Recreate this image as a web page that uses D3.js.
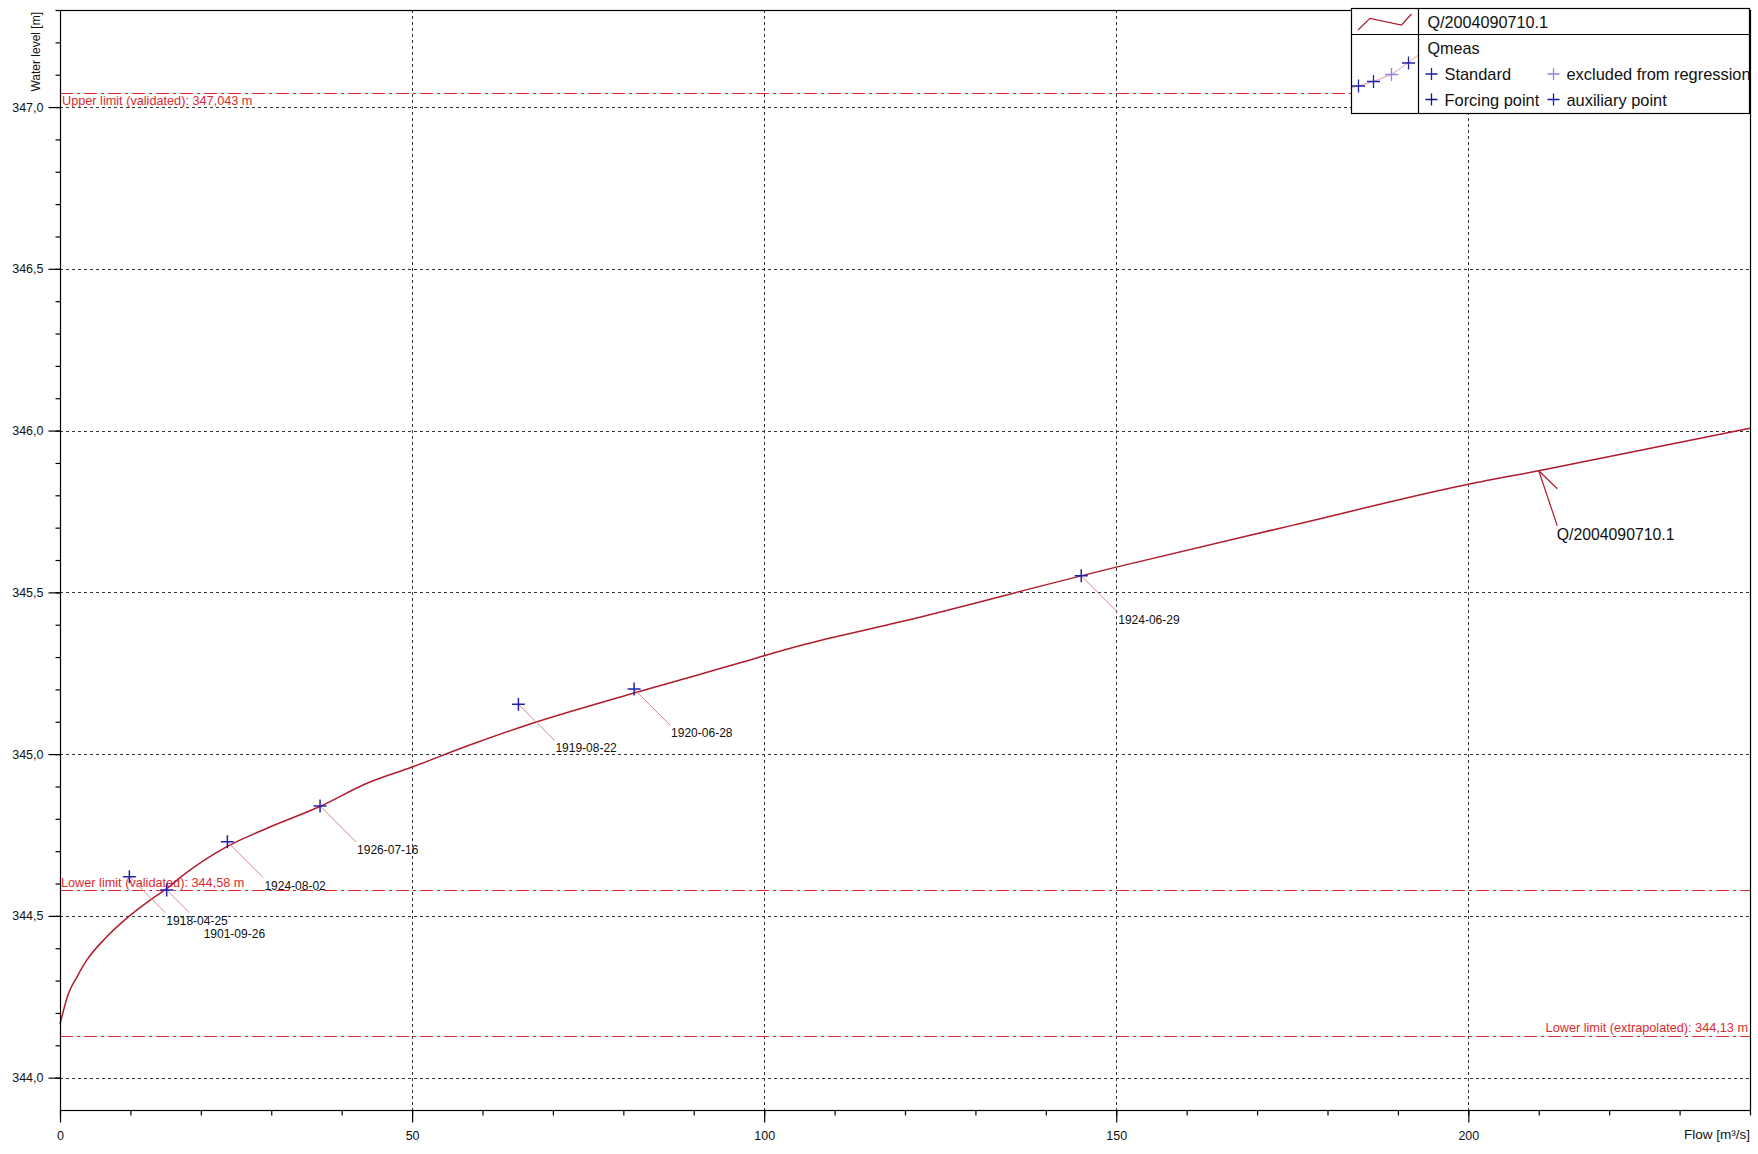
<!DOCTYPE html>
<html>
<head>
<meta charset="utf-8">
<script src="https://cdn.jsdelivr.net/npm/d3@7"></script>
<style>
  html, body { margin: 0; padding: 0; background: #fff; }
  svg { display: block; font-family: "Liberation Sans", Arial, sans-serif; }
</style>
</head>
<body>
<svg id="chart" width="1758" height="1154"></svg>
<script>
// ---------------- data ----------------
const curveName = "Q/2004090710.1";
const curveQ = [0, 1.2, 2.4, 3.8, 6.4, 9.7, 12.8, 15.2, 17.5, 23.7, 29.4, 36.9, 43.6, 50, 57.8, 67.2, 81.4, 95.6, 105, 120, 145, 150, 175, 200, 210, 240];
const curveH = [344.165, 344.26, 344.311, 344.363, 344.43, 344.497, 344.549, 344.585, 344.626, 344.714, 344.771, 344.838, 344.91, 344.96, 345.025, 345.096, 345.188, 345.276, 345.335, 345.412, 345.551, 345.578, 345.707, 345.834, 345.876, 346.007];

const measDates = ["1918-04-25", "1901-09-26", "1924-08-02", "1926-07-16", "1919-08-22", "1920-06-28", "1924-06-29"];
const measQ = [9.85, 15.15, 23.77, 36.93, 65.1, 81.53, 145.03];
const measH = [344.621, 344.58, 344.729, 344.840, 345.154, 345.201, 345.551];

const limitNames = ["Upper limit (validated)", "Lower limit (validated)", "Lower limit (extrapolated)"];
const limitValues = [347.043, 344.58, 344.13];
const limitLabels = ["347,043 m", "344,58 m", "344,13 m"];

const xMajorTicks = [0, 50, 100, 150, 200];
const yMajorTicks = [344.0, 344.5, 345.0, 345.5, 346.0, 346.5, 347.0];
const xTitle = "Flow [m³/s]";
const yTitle = "Water level [m]";

const legendItems = ["Standard", "excluded from regression", "Forcing point", "auxiliary point"];

// ---------------- layout ----------------
const W = 1758, H = 1154;
const L = 60, T = 10, R = 1750, B = 1110;
const x = d3.scaleLinear().domain([0, 240]).range([L, R]);
const y = d3.scaleLinear().domain([343.9, 347.3]).range([B, T]);

const svg = d3.select("#chart");
const curveColor = "#b01c2c";
const limitColor = "#dc2a2e";
const plusColor = "#2222a6";

// grid
const grid = svg.append("g");
grid.selectAll("line.hg").data(yMajorTicks).join("line")
  .attr("x1", L).attr("x2", R)
  .attr("y1", d => Math.round(y(d)) + 0.5).attr("y2", d => Math.round(y(d)) + 0.5)
  .attr("stroke", "#333").attr("stroke-width", 1).attr("stroke-dasharray", "3,3");
grid.selectAll("line.vg").data(xMajorTicks.filter(d => d > 0)).join("line")
  .attr("y1", T).attr("y2", B)
  .attr("x1", d => Math.round(x(d)) + 0.5).attr("x2", d => Math.round(x(d)) + 0.5)
  .attr("stroke", "#333").attr("stroke-width", 1).attr("stroke-dasharray", "3,3");

// limit lines
const lim = svg.append("g");
lim.selectAll("line").data(limitValues).join("line")
  .attr("x1", L).attr("x2", R)
  .attr("y1", d => Math.round(y(d)) + 0.5).attr("y2", d => Math.round(y(d)) + 0.5)
  .attr("stroke", limitColor).attr("stroke-width", 1).attr("stroke-dasharray", "13,4,3,4");
const limPlace = [
  { anchor: "start", xPos: L + 2, dy: 12 },
  { anchor: "start", xPos: L + 1, dy: -3 },
  { anchor: "end", xPos: R - 2, dy: -4 }
];
lim.selectAll("text").data(limitValues).join("text")
  .attr("x", (d, i) => limPlace[i].xPos)
  .attr("y", (d, i) => y(d) + limPlace[i].dy)
  .attr("text-anchor", (d, i) => limPlace[i].anchor)
  .attr("fill", limitColor).attr("font-size", 12.7)
  .text((d, i) => limitNames[i] + ": " + limitLabels[i]);

// curve
const curveData = curveQ.map((q, i) => [q, curveH[i]]);
svg.append("path").datum(curveData)
  .attr("d", d3.line().curve(d3.curveMonotoneX).x(d => x(d[0])).y(d => y(d[1])))
  .attr("fill", "none").attr("stroke", curveColor).attr("stroke-width", 1.5);

// curve label with arrow
const cq = 210, ch = curveH[curveQ.indexOf(210)];
const cg = svg.append("g").attr("transform", `translate(${x(cq)},${y(ch)})`);
cg.append("line").attr("x1", 0).attr("y1", 0).attr("x2", 18.5).attr("y2", 55)
  .attr("stroke", curveColor).attr("stroke-width", 1.2);
cg.append("line").attr("x1", 0).attr("y1", 0).attr("x2", 18.5).attr("y2", 18)
  .attr("stroke", curveColor).attr("stroke-width", 1.2);
cg.append("text").attr("x", 18).attr("y", 69).attr("font-size", 15.8).attr("fill", "#111").text(curveName);

// measurements
const leaderScale = [1, 0.63, 1, 1, 1, 1, 1];
const meas = svg.append("g");
meas.selectAll("line.lead").data(measQ).join("line")
  .attr("x1", (d) => x(d)).attr("y1", (d, i) => y(measH[i]))
  .attr("x2", (d, i) => x(d) + 36 * leaderScale[i]).attr("y2", (d, i) => y(measH[i]) + 36 * leaderScale[i])
  .attr("stroke", "#e08a8a").attr("stroke-width", 1);
meas.selectAll("text").data(measQ).join("text")
  .attr("x", d => x(d) + 37).attr("y", (d, i) => y(measH[i]) + 48)
  .attr("font-size", 12).attr("fill", "#111")
  .text((d, i) => measDates[i]);
function plus(g, cx, cy, s, color, w) {
  g.append("path").attr("d", `M${cx - s},${cy}H${cx + s}M${cx},${cy - s}V${cy + s}`)
    .attr("stroke", color).attr("stroke-width", w).attr("fill", "none");
}
measQ.forEach((q, i) => plus(meas, x(q), y(measH[i]), 6.5, plusColor, 1.5));

// axes box
svg.append("rect").attr("x", L + 0.5).attr("y", T + 0.5).attr("width", R - L).attr("height", B - T)
  .attr("fill", "none").attr("stroke", "#000").attr("stroke-width", 1.2);

const fmtY = d => d3.format(".1f")(d).replace(".", ",");
const yAxis = svg.append("g").attr("transform", `translate(${L + 0.5},0)`)
  .call(d3.axisLeft(y).tickValues(yMajorTicks).tickSize(12).tickPadding(5).tickFormat(fmtY));
const yMinor = svg.append("g").attr("transform", `translate(${L + 0.5},0)`)
  .call(d3.axisLeft(y).tickValues(d3.range(3440, 3474, 1).map(v => v / 10)).tickSize(5).tickFormat(""));
const xAxis = svg.append("g").attr("transform", `translate(0,${B + 0.5})`)
  .call(d3.axisBottom(x).tickValues(xMajorTicks).tickSize(12).tickPadding(9).tickFormat(d3.format("d")));
const xMinor = svg.append("g").attr("transform", `translate(0,${B + 0.5})`)
  .call(d3.axisBottom(x).tickValues(d3.range(0, 241, 10)).tickSize(5).tickFormat(""));
[yAxis, yMinor, xAxis, xMinor].forEach(a => {
  a.select(".domain").remove();
  a.selectAll("line").attr("stroke", "#000").attr("stroke-width", 1.2);
  a.selectAll("text").attr("font-family", "Liberation Sans, Arial, sans-serif").attr("font-size", 12.5).attr("fill", "#111");
});

// axis titles
svg.append("text").attr("transform", "translate(40,12) rotate(-90)")
  .attr("text-anchor", "end").attr("font-size", 12).attr("fill", "#111").text(yTitle);
svg.append("text").attr("x", R).attr("y", 1139).attr("text-anchor", "end")
  .attr("font-size", 13.5).attr("fill", "#111").text(xTitle);

// legend
const lx = 1351.5, ly = 8.5, lw = 398, lh = 105, divX = 67, divY = 26;
const leg = svg.append("g").attr("transform", `translate(${lx},${ly})`);
svg.append("defs").append("clipPath").attr("id", "legclip")
  .append("rect").attr("x", 0).attr("y", 0).attr("width", lw).attr("height", lh);
leg.append("rect").attr("width", lw).attr("height", lh).attr("fill", "#fff");
const legC = leg.append("g").attr("clip-path", "url(#legclip)");
legC.append("polyline").attr("points", "6.5,21.5 18.5,9.8 50,16.5 60,5.5")
  .attr("fill", "none").attr("stroke", curveColor).attr("stroke-width", 1.2);
legC.append("text").attr("x", 76).attr("y", 19).attr("font-size", 16.2).attr("fill", "#111").text(curveName);
legC.append("polyline").attr("points", "0,79 7,77.5 22,73 40,66 57,54 66,47")
  .attr("fill", "none").attr("stroke", "#e89aa8").attr("stroke-width", 1);
const legPlusColors = [plusColor, plusColor, "#8f84e6", plusColor];
[[7, 77.5], [22, 73], [40, 66], [57, 54.5]].forEach((p, i) => plus(legC, p[0], p[1], 6.5, legPlusColors[i], 1.3));
legC.append("text").attr("x", 76).attr("y", 45).attr("font-size", 16.2).attr("fill", "#111").text("Qmeas");
const itemColors = ["#1f1f9e", "#8f84e6", "#14147a", "#1616c0"];
const itemPos = [[80, 65.5], [202, 65.5], [80, 91], [202, 91]];
legendItems.forEach((t, i) => {
  plus(legC, itemPos[i][0], itemPos[i][1], 6, itemColors[i], 1.3);
  legC.append("text").attr("x", itemPos[i][0] + 13).attr("y", itemPos[i][1] + 6)
    .attr("font-size", 16.4).attr("fill", "#111").text(t);
});
leg.append("rect").attr("width", lw).attr("height", lh).attr("fill", "none").attr("stroke", "#000").attr("stroke-width", 1.2);
leg.append("line").attr("x1", 0).attr("x2", lw).attr("y1", divY).attr("y2", divY).attr("stroke", "#000").attr("stroke-width", 1.2);
leg.append("line").attr("x1", divX).attr("x2", divX).attr("y1", 0).attr("y2", lh).attr("stroke", "#000").attr("stroke-width", 1.2);
</script>
</body>
</html>
